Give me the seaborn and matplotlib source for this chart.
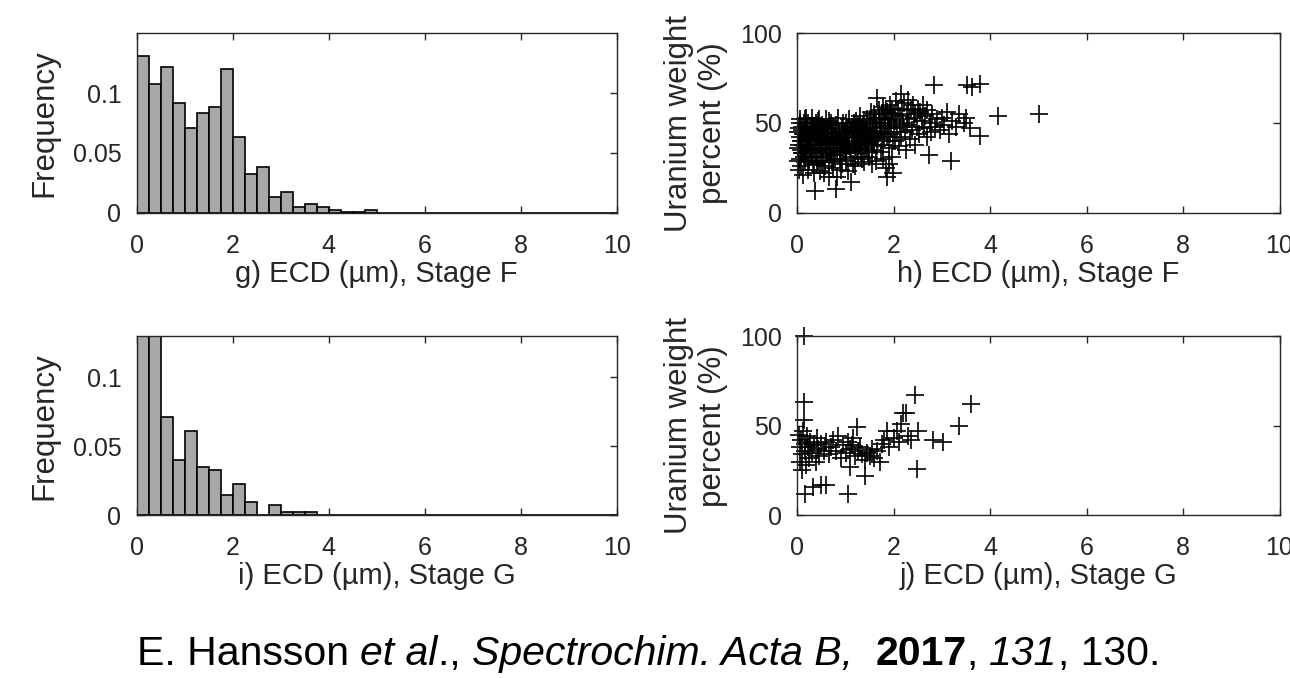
import numpy as np
import pandas as pd
import matplotlib
matplotlib.use("Agg")
import matplotlib.pyplot as plt
import seaborn as sns

# ---------------- data ----------------
bin_edges = [round(0.25 * k, 2) for k in range(41)]
bin_centers = [round(0.25 * k + 0.125, 3) for k in range(40)]

# panel g: frequencies per 0.25 um bin (Stage F)
freq_F = [0.131, 0.108, 0.122, 0.092, 0.071, 0.083, 0.088, 0.120,
          0.063, 0.032, 0.038, 0.013, 0.017, 0.0045, 0.007, 0.0045,
          0.0022, 0.0005, 0.0005, 0.0022] + [0.0] * 20

# panel i: frequencies per 0.25 um bin (Stage G), first two clipped
freq_G = [0.20, 0.17, 0.071, 0.040, 0.061, 0.035, 0.033, 0.015,
          0.023, 0.010, 0.0, 0.0077, 0.0024, 0.0024, 0.0024] + [0.0] * 25

freq_ticks = [0, 0.05, 0.1]
freq_ticklabels = ["0", "0.05", "0.1"]
ecd_ticks = [0, 2, 4, 6, 8, 10]
u_ticks = [0, 50, 100]

# panel h: ECD vs uranium wt% (Stage F)
h_x = [0.02, 0.03, 0.05, 0.05, 0.06, 0.08, 0.08, 0.10, 0.10, 0.12, 0.12, 0.14, 0.15, 0.15, 0.17, 0.18,
       0.20, 0.20, 0.22, 0.23, 0.25, 0.26, 0.28, 0.30, 0.30, 0.32, 0.33, 0.35, 0.36, 0.37, 0.38, 0.40,
       0.42, 0.43, 0.45, 0.46, 0.48, 0.50, 0.50,
       0.52, 0.54, 0.55, 0.57, 0.58, 0.60, 0.60, 0.62, 0.64, 0.65, 0.67, 0.68, 0.70, 0.72, 0.73, 0.75,
       0.76, 0.78, 0.80, 0.80, 0.82, 0.83, 0.85, 0.86, 0.88, 0.90, 0.92, 0.93, 0.95, 0.97, 0.98, 1.00, 1.00,
       1.02, 1.04, 1.05, 1.07, 1.08, 1.10, 1.12, 1.13, 1.15, 1.16, 1.18, 1.20, 1.22, 1.23, 1.25, 1.27,
       1.28, 1.30, 1.32, 1.33, 1.35, 1.37, 1.38, 1.40, 1.42, 1.44, 1.45, 1.47, 1.48, 1.50,
       1.52, 1.53, 1.55, 1.57, 1.58, 1.60, 1.62, 1.63, 1.65, 1.65, 1.67, 1.70, 1.72, 1.73, 1.75, 1.77,
       1.78, 1.80, 1.82, 1.83, 1.85, 1.86, 1.87, 1.88, 1.90, 1.92, 1.93, 1.95, 1.97, 1.99, 2.00, 2.00,
       2.02, 2.04, 2.05, 2.07, 2.08, 2.10, 2.12, 2.13, 2.15, 2.16, 2.18, 2.20, 2.22, 2.23, 2.25, 2.27,
       2.28, 2.30, 2.32, 2.33, 2.35, 2.37, 2.40, 2.42, 2.44, 2.45, 2.48, 2.50,
       2.52, 2.55, 2.58, 2.60, 2.62, 2.65, 2.68, 2.70, 2.73, 2.75, 2.78, 2.80, 2.84, 2.85, 2.90, 2.95,
       3.00, 3.05, 3.10, 3.15, 3.19, 3.20, 3.30, 3.35, 3.45, 3.50, 3.52, 3.58, 3.62, 3.78, 3.79, 4.17, 5.02,
       0.04, 0.07, 0.09, 0.11, 0.13, 0.16, 0.19, 0.21, 0.24, 0.27, 0.29, 0.31, 0.34, 0.36, 0.39, 0.41,
       0.44, 0.47, 0.49, 0.51, 0.53, 0.56, 0.59, 0.61, 0.63, 0.66, 0.69, 0.71, 0.74, 0.77, 0.79, 0.81,
       0.84, 0.87, 0.89, 0.91, 0.94, 0.96, 0.99, 1.01, 1.03, 1.06, 1.09, 1.11, 1.14, 1.17, 1.19, 1.21,
       1.24, 1.26, 1.29, 1.31, 1.34, 1.36, 1.39, 1.41, 1.43, 1.46, 1.49, 1.51, 1.54, 1.56, 1.59, 1.61,
       1.64, 1.66, 1.69, 1.71, 1.74, 1.76, 1.79, 1.81, 1.84, 1.89, 1.91, 1.94, 1.96, 1.98,
       0.01, 0.02, 0.04, 0.06, 0.09, 0.11, 0.14, 0.18, 0.22, 0.26, 0.31, 0.35, 0.41, 0.45, 0.55, 0.66,
       0.71, 0.90, 1.05, 1.20, 1.35, 1.55, 1.78, 1.90]
h_y = [45, 38, 50, 30, 42, 35, 26, 48, 40, 21, 33, 44, 52, 37, 28, 46,
       41, 34, 50, 24, 38, 45, 31, 53, 42, 36, 27, 48, 40, 12, 33, 44,
       51, 29, 38, 46, 23, 41, 35,
       49, 31, 44, 38, 26, 52, 42, 34, 47, 29, 40, 36, 50, 44, 25, 38,
       32, 46, 13, 41, 20, 35, 53, 43, 30, 39, 47, 27, 36, 44, 33, 50, 40,
       29, 45, 37, 52, 42, 34, 17, 48, 39, 27, 45, 36, 51, 42, 31, 47,
       38, 54, 44, 33, 40, 49, 28, 43, 36, 52, 46, 39, 31, 48,
       42, 56, 35, 50, 45, 38, 53, 29, 64, 47, 41, 57, 50, 34, 44, 59,
       38, 53, 47, 25, 42, 20, 56, 49, 36, 60, 44, 52, 31, 22, 47, 55,
       40, 62, 51, 45, 58, 37, 54, 48, 66, 42, 57, 50, 61, 45, 35, 55,
       49, 63, 52, 41, 57, 46, 60, 53, 38, 55, 48, 58,
       44, 56, 51, 60, 47, 54, 42, 57, 32, 50, 45, 55, 71, 48, 52, 46,
       53, 49, 56, 44, 29, 51, 48, 55, 50, 53, 71, 47, 70, 72, 43, 54, 55,
       47, 40, 33, 44, 50, 42, 36, 47, 29, 41, 48, 34, 45, 31, 50, 38,
       43, 33, 47, 28, 39, 48, 36, 45, 40, 51, 32, 42, 47, 36, 30, 49,
       39, 45, 34, 41, 50, 38, 45, 35, 48, 40, 46, 31, 42, 50, 38, 45,
       35, 49, 41, 37, 47, 43, 51, 39, 46, 34, 43, 52, 40, 47, 55, 43,
       50, 37, 53, 45, 48, 55, 42, 50, 58, 45, 52, 48, 57, 40,
       36, 29, 24, 52, 46, 38, 31, 53, 43, 35, 45, 22, 27, 52, 22, 20,
       28, 24, 23, 26, 30, 27, 30, 27]

# panel j: ECD vs uranium wt% (Stage G)
j_x = [0.14, 0.14, 0.14, 0.03, 0.05, 0.06, 0.08, 0.10, 0.10, 0.12, 0.15, 0.16, 0.17, 0.18, 0.20, 0.22,
       0.25, 0.27, 0.30, 0.33, 0.35, 0.38, 0.40, 0.42, 0.45, 0.50, 0.50, 0.55, 0.60, 0.60, 0.65, 0.70,
       0.75, 0.80, 0.85, 0.90, 0.95, 1.00, 1.06, 1.05, 1.09, 1.10, 1.13, 1.15, 1.20, 1.23, 1.25, 1.30,
       1.35, 1.40, 1.40, 1.45, 1.50, 1.55, 1.60, 1.65, 1.72, 1.75, 1.80, 1.85, 1.90, 2.00, 2.06, 2.10,
       2.15, 2.20, 2.25, 2.30, 2.35, 2.44, 2.48, 2.50, 2.82, 3.03, 3.36, 3.61]
j_y = [100, 63, 53, 45, 38, 30, 42, 34, 25, 47, 40, 12, 36, 28, 44, 38,
       32, 41, 35, 16, 39, 30, 43, 37, 33, 17, 40, 36, 17, 41, 34, 38,
       42, 36, 44, 32, 39, 35, 12, 41, 27, 37, 39, 43, 33, 49, 36, 38,
       34, 22, 31, 35, 33, 37, 32, 36, 30, 40, 42, 47, 38, 43, 47, 41,
       51, 57, 57, 44, 42, 67, 26, 47, 42, 41, 50, 62]

# ---------------- style ----------------
sns.set_style("ticks")
txt = "#262626"
plt.rcParams.update({
    "font.family": ["Liberation Sans", "DejaVu Sans"],
    "font.size": 18,
    "xtick.direction": "in", "ytick.direction": "in",
    "xtick.top": True, "ytick.right": True,
    "xtick.major.size": 5, "ytick.major.size": 5,
    "xtick.major.width": 1, "ytick.major.width": 1,
    "xtick.major.pad": 15, "ytick.major.pad": 11,
    "xtick.color": txt, "ytick.color": txt,
    "xtick.labelcolor": txt, "ytick.labelcolor": txt,
    "axes.edgecolor": txt, "axes.linewidth": 1.0,
    "axes.labelcolor": txt, "text.color": txt,
})
XLAB_FS = 21
YLAB_FS = 22.5

W, H = 1290, 678
fig = plt.figure(figsize=(W / 100, H / 100), dpi=100)

def box(l, t, r, b):
    return [l / W, 1 - b / H, (r - l) / W, (b - t) / H]

ax_g = fig.add_axes(box(136.7, 33.3, 616.7, 212.7))
ax_h = fig.add_axes(box(797.3, 33.3, 1279.5, 212.7))
ax_i = fig.add_axes(box(136.7, 336.0, 616.7, 515.3))
ax_j = fig.add_axes(box(797.3, 336.0, 1279.5, 515.3))

for ax, fr, ymax, lab in [(ax_g, freq_F, 0.15, "g) ECD (µm), Stage F"),
                          (ax_i, freq_G, 0.13, "i) ECD (µm), Stage G")]:
    df = pd.DataFrame({"ecd": bin_centers, "freq": fr})
    sns.histplot(data=df, x="ecd", weights="freq", bins=bin_edges, color="#a8a8a8",
                 edgecolor="black", linewidth=1.2, alpha=1, ax=ax)
    ax.set_xlim(0, 10)
    ax.set_ylim(0, ymax)
    ax.set_yticks(freq_ticks)
    ax.set_yticklabels(freq_ticklabels)
    ax.set_xticks(ecd_ticks)
    ax.set_ylabel("Frequency", labelpad=9.5, fontsize=YLAB_FS)
    ax.set_xlabel(lab, labelpad=1.5, fontsize=XLAB_FS)

for ax, xs, ys, lab in [(ax_h, h_x, h_y, "h) ECD (µm), Stage F"),
                        (ax_j, j_x, j_y, "j) ECD (µm), Stage G")]:
    df = pd.DataFrame({"ecd": xs, "u": ys})
    sns.scatterplot(data=df, x="ecd", y="u", marker="+", s=175, color="black",
                    linewidth=1.2, ax=ax, clip_on=False)
    ax.set_xlim(0, 10)
    ax.set_ylim(0, 100)
    ax.set_xticks(ecd_ticks)
    ax.set_yticks(u_ticks)
    ax.set_ylabel("Uranium weight\npercent (%)", labelpad=9, linespacing=1.15,
                  fontsize=YLAB_FS)
    ax.set_xlabel(lab, labelpad=1.5, fontsize=XLAB_FS)

for ax in [ax_g, ax_h, ax_i, ax_j]:
    for sp in ax.spines.values():
        sp.set_visible(True)

# citation with mixed styles
pieces = [("E. Hansson ", "normal", "normal"), ("et al", "italic", "normal"),
          ("., ", "normal", "normal"), ("Spectrochim. Acta B,", "italic", "normal"),
          ("  ", "normal", "normal"), ("2017", "normal", "bold"),
          (", ", "normal", "normal"), ("131", "italic", "normal"),
          (", 130.", "normal", "normal")]
renderer = fig.canvas.get_renderer()
xpos = 137 / W
for s, st, wt in pieces:
    t = fig.text(xpos, 1 - 665 / H, s, fontsize=29.5, style=st, weight=wt,
                 color="black", ha="left", va="baseline")
    bb = t.get_window_extent(renderer=renderer)
    xpos += bb.width / W

fig.savefig("out.png", dpi=100)
